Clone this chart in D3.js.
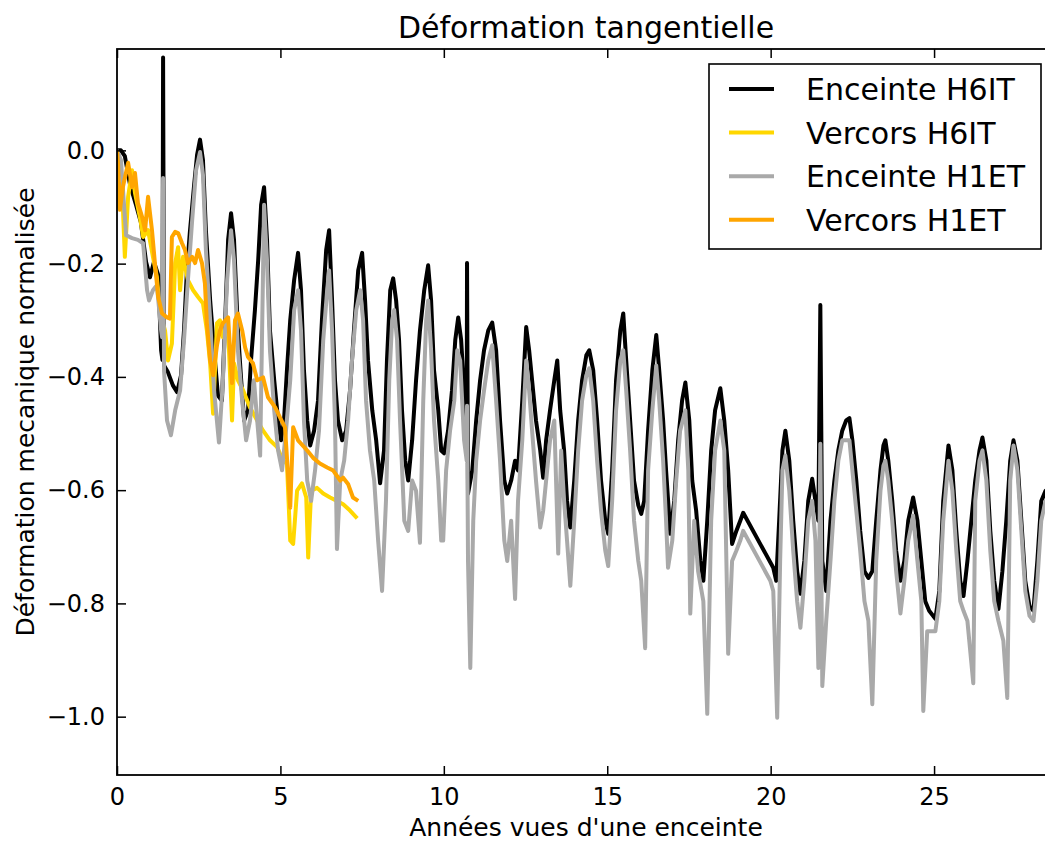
<!DOCTYPE html>
<html>
<head>
<meta charset="utf-8">
<script src="https://cdn.jsdelivr.net/npm/d3@7"></script>
<style>
  body { margin: 0; background: #fff; }
  text { font-family: "DejaVu Sans", sans-serif; fill: #000; }
</style>
</head>
<body>
<div class="chart"></div>
<script>
// series: [years, normalised strain]
const enceinteH6IT = [
  [0.00,0.000],[0.12,0.000],[0.24,-0.010],[0.40,-0.061],[0.58,-0.096],[0.73,-0.127],[0.89,-0.197],[1.01,-0.224],
  [1.13,-0.197],[1.26,-0.220],[1.35,-0.353],[1.39,-0.370],[1.41,0.164],[1.44,-0.380],[1.56,-0.392],[1.71,-0.415],
  [1.84,-0.427],[1.96,-0.397],[2.05,-0.318],[2.14,-0.212],[2.23,-0.144],[2.36,-0.061],[2.45,-0.008],[2.54,0.019],
  [2.63,-0.017],[2.72,-0.141],[2.85,-0.265],[2.97,-0.353],[3.09,-0.433],[3.21,-0.442],[3.31,-0.300],[3.40,-0.158],
  [3.49,-0.111],[3.58,-0.158],[3.70,-0.318],[3.80,-0.406],[3.89,-0.477],[4.01,-0.459],[4.10,-0.371],[4.22,-0.282],
  [4.32,-0.194],[4.41,-0.096],[4.50,-0.065],[4.59,-0.158],[4.68,-0.318],[4.81,-0.406],[4.93,-0.477],[5.02,-0.512],
  [5.11,-0.477],[5.20,-0.388],[5.30,-0.300],[5.42,-0.229],[5.54,-0.181],[5.63,-0.247],[5.72,-0.388],[5.82,-0.477],
  [5.91,-0.521],[6.03,-0.495],[6.15,-0.442],[6.27,-0.300],[6.40,-0.176],[6.49,-0.141],[6.58,-0.265],[6.67,-0.406],
  [6.76,-0.477],[6.89,-0.512],[7.01,-0.495],[7.13,-0.424],[7.25,-0.318],[7.38,-0.212],[7.50,-0.181],[7.59,-0.265],
  [7.68,-0.371],[7.81,-0.459],[7.93,-0.512],[8.05,-0.588],[8.17,-0.530],[8.26,-0.371],[8.36,-0.247],[8.45,-0.226],
  [8.54,-0.265],[8.63,-0.335],[8.72,-0.459],[8.82,-0.548],[8.91,-0.583],[9.03,-0.512],[9.15,-0.406],[9.27,-0.318],
  [9.40,-0.247],[9.52,-0.203],[9.61,-0.265],[9.70,-0.388],[9.83,-0.459],[9.92,-0.530],[10.01,-0.535],[10.13,-0.495],
  [10.25,-0.424],[10.35,-0.335],[10.44,-0.295],[10.53,-0.335],[10.62,-0.424],[10.70,-0.477],[10.71,-0.199],[10.74,-0.606],
  [10.87,-0.565],[10.99,-0.477],[11.11,-0.406],[11.23,-0.353],[11.36,-0.318],[11.48,-0.304],[11.60,-0.353],[11.72,-0.477],
  [11.85,-0.583],[11.94,-0.606],[12.06,-0.583],[12.18,-0.548],[12.27,-0.565],[12.40,-0.442],[12.52,-0.312],[12.61,-0.353],
  [12.70,-0.406],[12.82,-0.477],[12.95,-0.530],[13.04,-0.578],[13.13,-0.512],[13.25,-0.459],[13.38,-0.406],[13.47,-0.371],
  [13.56,-0.459],[13.68,-0.530],[13.77,-0.619],[13.87,-0.666],[13.99,-0.583],[14.11,-0.477],[14.23,-0.406],[14.36,-0.362],
  [14.45,-0.353],[14.57,-0.388],[14.69,-0.477],[14.81,-0.583],[14.94,-0.654],[15.03,-0.677],[15.15,-0.565],[15.27,-0.406],
  [15.40,-0.318],[15.49,-0.288],[15.58,-0.371],[15.70,-0.477],[15.82,-0.583],[15.95,-0.627],[16.04,-0.642],[16.13,-0.619],
  [16.25,-0.495],[16.38,-0.388],[16.50,-0.326],[16.59,-0.388],[16.71,-0.477],[16.80,-0.565],[16.93,-0.677],[17.05,-0.619],
  [17.17,-0.512],[17.29,-0.442],[17.39,-0.410],[17.51,-0.477],[17.60,-0.583],[17.72,-0.636],[17.85,-0.725],[17.94,-0.760],
  [18.06,-0.654],[18.18,-0.530],[18.30,-0.459],[18.46,-0.420],[18.58,-0.477],[18.70,-0.565],[18.82,-0.695],[18.95,-0.672],
  [19.07,-0.654],[19.16,-0.640],[20.08,-0.737],[20.17,-0.760],[20.26,-0.654],[20.36,-0.530],[20.45,-0.495],[20.57,-0.548],
  [20.69,-0.654],[20.81,-0.743],[20.91,-0.783],[21.03,-0.725],[21.15,-0.619],[21.27,-0.580],[21.37,-0.619],[21.46,-0.654],
  [21.52,-0.273],[21.58,-0.725],[21.70,-0.778],[21.83,-0.654],[21.95,-0.583],[22.07,-0.530],[22.19,-0.495],[22.31,-0.477],
  [22.41,-0.473],[22.50,-0.512],[22.62,-0.583],[22.74,-0.672],[22.87,-0.743],[22.99,-0.755],[23.11,-0.743],[23.23,-0.654],
  [23.36,-0.565],[23.45,-0.521],[23.51,-0.512],[23.60,-0.548],[23.72,-0.619],[23.84,-0.707],[23.97,-0.760],[24.09,-0.725],
  [24.21,-0.654],[24.36,-0.613],[24.49,-0.654],[24.61,-0.725],[24.73,-0.796],[24.85,-0.813],[25.04,-0.827],[25.16,-0.778],
  [25.28,-0.619],[25.44,-0.521],[25.56,-0.565],[25.68,-0.672],[25.80,-0.760],[25.90,-0.787],[26.02,-0.725],[26.14,-0.654],
  [26.26,-0.583],[26.39,-0.530],[26.48,-0.507],[26.60,-0.548],[26.72,-0.672],[26.84,-0.760],[26.97,-0.810],[27.09,-0.743],
  [27.21,-0.654],[27.33,-0.548],[27.43,-0.512],[27.55,-0.548],[27.67,-0.654],[27.79,-0.760],[27.92,-0.805],[28.04,-0.813],
  [28.16,-0.725],[28.28,-0.619],[28.41,-0.601],[28.56,-0.650]
];

const vercorsH6IT = [
  [0.00,-0.022],[0.06,-0.100],[0.15,-0.058],[0.24,-0.188],[0.34,-0.082],[0.46,-0.035],[0.55,-0.075],[0.70,-0.118],
  [0.80,-0.153],[0.95,-0.141],[1.10,-0.188],[1.22,-0.224],[1.32,-0.288],[1.47,-0.318],[1.56,-0.371],[1.68,-0.341],
  [1.78,-0.199],[1.87,-0.171],[1.93,-0.247],[2.02,-0.188],[2.17,-0.229],[2.33,-0.247],[2.48,-0.259],[2.63,-0.270],
  [2.75,-0.318],[2.85,-0.376],[2.94,-0.465],[3.06,-0.305],[3.15,-0.300],[3.24,-0.330],[3.40,-0.318],[3.52,-0.477],
  [3.58,-0.376],[3.70,-0.406],[3.86,-0.424],[4.07,-0.454],[4.29,-0.477],[4.47,-0.495],[4.68,-0.512],[4.90,-0.524],
  [5.08,-0.548],[5.20,-0.553],[5.30,-0.689],[5.39,-0.695],[5.51,-0.601],[5.66,-0.588],[5.79,-0.613],[5.85,-0.719],
  [5.94,-0.601],[6.12,-0.596],[6.31,-0.606],[6.52,-0.613],[6.73,-0.619],[6.92,-0.625],[7.13,-0.636],[7.35,-0.650]
];

const enceinteH1ET = [
  [0.00,0.000],[0.12,-0.017],[0.28,-0.150],[0.46,-0.155],[0.64,-0.158],[0.80,-0.164],[0.92,-0.247],[0.98,-0.265],
  [1.10,-0.247],[1.22,-0.238],[1.35,-0.318],[1.38,-0.330],[1.41,-0.049],[1.44,-0.390],[1.53,-0.477],[1.65,-0.503],
  [1.78,-0.459],[1.93,-0.424],[2.05,-0.335],[2.17,-0.229],[2.30,-0.123],[2.42,-0.035],[2.54,-0.003],[2.63,-0.043],
  [2.72,-0.176],[2.85,-0.300],[2.97,-0.424],[3.12,-0.516],[3.24,-0.406],[3.37,-0.229],[3.49,-0.141],[3.58,-0.194],
  [3.70,-0.353],[3.83,-0.442],[3.95,-0.512],[4.07,-0.477],[4.19,-0.406],[4.29,-0.477],[4.38,-0.539],[4.44,-0.318],
  [4.50,-0.096],[4.59,-0.194],[4.68,-0.353],[4.81,-0.459],[4.93,-0.530],[5.05,-0.565],[5.17,-0.495],[5.30,-0.406],
  [5.42,-0.282],[5.54,-0.247],[5.63,-0.318],[5.72,-0.477],[5.82,-0.583],[5.94,-0.619],[6.06,-0.565],[6.18,-0.495],
  [6.31,-0.335],[6.43,-0.247],[6.49,-0.212],[6.58,-0.318],[6.67,-0.477],[6.73,-0.704],[6.83,-0.583],[6.95,-0.548],
  [7.07,-0.477],[7.19,-0.371],[7.32,-0.282],[7.44,-0.247],[7.53,-0.300],[7.62,-0.442],[7.74,-0.530],[7.87,-0.583],
  [7.99,-0.689],[8.11,-0.778],[8.23,-0.619],[8.33,-0.406],[8.42,-0.300],[8.48,-0.282],[8.57,-0.335],[8.66,-0.477],
  [8.79,-0.654],[8.91,-0.672],[9.03,-0.583],[9.15,-0.601],[9.27,-0.693],[9.37,-0.442],[9.46,-0.300],[9.52,-0.265],
  [9.61,-0.353],[9.70,-0.477],[9.83,-0.583],[9.92,-0.689],[9.98,-0.689],[10.07,-0.565],[10.19,-0.495],[10.32,-0.442],
  [10.41,-0.353],[10.50,-0.371],[10.62,-0.512],[10.70,-0.548],[10.71,-0.451],[10.74,-0.725],[10.81,-0.914],[10.90,-0.654],
  [10.99,-0.548],[11.11,-0.477],[11.23,-0.424],[11.36,-0.371],[11.48,-0.344],[11.60,-0.442],[11.72,-0.548],[11.85,-0.689],
  [11.94,-0.725],[12.06,-0.654],[12.18,-0.792],[12.27,-0.619],[12.40,-0.512],[12.52,-0.371],[12.61,-0.424],[12.70,-0.495],
  [12.82,-0.583],[12.95,-0.666],[13.04,-0.636],[13.13,-0.583],[13.25,-0.512],[13.38,-0.477],[13.50,-0.712],[13.59,-0.530],
  [13.68,-0.619],[13.77,-0.689],[13.87,-0.769],[13.99,-0.654],[14.11,-0.530],[14.23,-0.442],[14.36,-0.397],[14.45,-0.385],
  [14.57,-0.442],[14.69,-0.548],[14.81,-0.636],[14.94,-0.707],[15.03,-0.734],[15.15,-0.619],[15.27,-0.459],[15.40,-0.371],
  [15.49,-0.353],[15.58,-0.424],[15.70,-0.530],[15.82,-0.654],[15.95,-0.725],[16.04,-0.760],[16.16,-0.879],[16.25,-0.565],
  [16.38,-0.459],[16.50,-0.380],[16.59,-0.442],[16.71,-0.548],[16.80,-0.654],[16.86,-0.737],[16.99,-0.689],[17.11,-0.583],
  [17.23,-0.495],[17.39,-0.459],[17.48,-0.565],[17.54,-0.818],[17.66,-0.654],[17.78,-0.743],[17.94,-0.796],[18.06,-0.995],
  [18.18,-0.654],[18.30,-0.530],[18.46,-0.477],[18.58,-0.530],[18.70,-0.889],[18.82,-0.725],[18.95,-0.707],[19.07,-0.689],
  [19.16,-0.672],[19.99,-0.760],[20.08,-0.778],[20.20,-1.002],[20.29,-0.725],[20.36,-0.565],[20.45,-0.539],[20.57,-0.601],
  [20.69,-0.707],[20.81,-0.796],[20.91,-0.843],[21.03,-0.760],[21.15,-0.654],[21.27,-0.619],[21.37,-0.689],[21.46,-0.914],
  [21.52,-0.518],[21.58,-0.946],[21.70,-0.831],[21.83,-0.725],[21.95,-0.619],[22.07,-0.548],[22.19,-0.512],[22.31,-0.512],
  [22.41,-0.512],[22.50,-0.565],[22.62,-0.636],[22.74,-0.707],[22.87,-0.796],[22.99,-0.831],[23.11,-0.978],[23.23,-0.725],
  [23.36,-0.601],[23.45,-0.557],[23.51,-0.548],[23.60,-0.583],[23.72,-0.654],[23.84,-0.743],[23.97,-0.818],[24.09,-0.760],
  [24.21,-0.689],[24.36,-0.645],[24.49,-0.725],[24.61,-0.796],[24.67,-0.990],[24.79,-0.849],[25.04,-0.849],[25.16,-0.796],
  [25.28,-0.654],[25.44,-0.548],[25.56,-0.601],[25.68,-0.707],[25.80,-0.796],[25.90,-0.813],[26.02,-0.831],[26.20,-0.941],
  [26.26,-0.619],[26.39,-0.548],[26.48,-0.530],[26.60,-0.583],[26.72,-0.707],[26.84,-0.796],[26.97,-0.831],[27.12,-0.866],
  [27.24,-0.967],[27.33,-0.583],[27.43,-0.521],[27.55,-0.565],[27.67,-0.672],[27.79,-0.778],[27.92,-0.822],[28.04,-0.831],
  [28.16,-0.760],[28.28,-0.654],[28.41,-0.619],[28.56,-0.660]
];

const vercorsH1ET = [
  [0.00,0.000],[0.03,-0.022],[0.09,-0.105],[0.18,-0.065],[0.34,-0.022],[0.46,-0.065],[0.55,-0.040],[0.64,-0.093],
  [0.77,-0.118],[0.86,-0.141],[0.95,-0.082],[1.07,-0.141],[1.16,-0.199],[1.26,-0.259],[1.38,-0.288],[1.53,-0.295],
  [1.62,-0.297],[1.68,-0.153],[1.78,-0.144],[1.87,-0.146],[1.99,-0.164],[2.08,-0.176],[2.17,-0.199],[2.30,-0.188],
  [2.39,-0.199],[2.48,-0.176],[2.60,-0.199],[2.69,-0.235],[2.75,-0.305],[2.85,-0.371],[2.94,-0.397],[3.06,-0.344],
  [3.15,-0.318],[3.24,-0.305],[3.40,-0.295],[3.52,-0.411],[3.61,-0.300],[3.70,-0.288],[3.83,-0.318],[3.92,-0.348],
  [4.01,-0.365],[4.16,-0.376],[4.29,-0.406],[4.47,-0.401],[4.62,-0.436],[4.84,-0.454],[4.99,-0.472],[5.14,-0.489],
  [5.30,-0.631],[5.39,-0.489],[5.54,-0.512],[5.82,-0.530],[6.00,-0.543],[6.21,-0.553],[6.43,-0.560],[6.61,-0.565],
  [6.83,-0.583],[6.92,-0.578],[7.07,-0.589],[7.22,-0.613],[7.38,-0.619]
];

const series = [
  { name: "Enceinte H6IT", color: "#000000", values: enceinteH6IT },
  { name: "Vercors H6IT", color: "#ffd700", values: vercorsH6IT },
  { name: "Enceinte H1ET", color: "#a9a9a9", values: enceinteH1ET },
  { name: "Vercors H1ET", color: "#ffa500", values: vercorsH1ET }
];

const xTicks = [0, 5, 10, 15, 20, 25];
const yTicks = [0.0, -0.2, -0.4, -0.6, -0.8, -1.0];

function chart() {
    const W = 1045, H = 843;
    const margin = { top: 49, right: -10, bottom: 68, left: 117 },
    width = W - margin.left - margin.right,
    height = H - margin.top - margin.bottom;

    const root = d3.select(".chart")
        .append("svg")
        .attr("width", W)
        .attr("height", H);

    const svg = root.append("g")
        .attr("transform", `translate(${margin.left},${margin.top})`);

    const x = d3.scaleLinear()
        .domain([0, 28.7])
        .range([0, width]);

    const y = d3.scaleLinear()
        .domain([-1.103, 0.179])
        .range([height, 0]);

    svg.append("clipPath")
        .attr("id", "plot-clip")
        .append("rect")
        .attr("width", width)
        .attr("height", height);

    const line = d3.line()
        .x(d => x(d[0]))
        .y(d => y(d[1]));

    svg.append("g")
        .attr("clip-path", "url(#plot-clip)")
        .selectAll("path")
        .data(series)
        .enter()
        .append("path")
        .attr("fill", "none")
        .attr("stroke", d => d.color)
        .attr("stroke-width", 4)
        .attr("stroke-linejoin", "round")
        .attr("d", d => line(d.values));

    const fmt = d3.format(".1f");

    // axes, ticks pointing inward like the classic matplotlib style
    svg.append("g")
        .attr("transform", `translate(0,${height})`)
        .call(d3.axisBottom(x).tickValues(xTicks).tickSize(-9).tickPadding(13).tickFormat(d3.format("d")));
    svg.append("g")
        .call(d3.axisTop(x).tickValues(xTicks).tickSize(-9).tickFormat(""));
    svg.append("g")
        .call(d3.axisLeft(y).tickValues(yTicks).tickSize(-9).tickPadding(12).tickFormat(d => fmt(d)));

    svg.selectAll(".domain").remove();
    svg.selectAll(".tick line").attr("stroke", "#000").attr("stroke-width", 1.5);
    svg.selectAll(".tick text")
        .style("font-family", "DejaVu Sans")
        .style("font-size", "24px")
        .attr("fill", "#000");

    svg.append("rect")
        .attr("width", width)
        .attr("height", height)
        .attr("fill", "none")
        .attr("stroke", "#000")
        .attr("stroke-width", 1.8);

    // titles
    root.append("text")
        .text("Déformation tangentielle")
        .attr("x", margin.left + width / 2)
        .attr("y", 38)
        .attr("text-anchor", "middle")
        .attr("font-size", 30);

    root.append("text")
        .text("Années vues d'une enceinte")
        .attr("x", margin.left + width / 2)
        .attr("y", 836)
        .attr("text-anchor", "middle")
        .attr("font-size", 25);

    root.append("text")
        .text("Déformation mecanique normalisée")
        .attr("transform", `translate(34,${margin.top + height / 2}) rotate(-90)`)
        .attr("text-anchor", "middle")
        .attr("font-size", 25);

    // legend
    const legend = root.append("g")
        .attr("transform", "translate(709,64)");

    legend.append("rect")
        .attr("width", 332)
        .attr("height", 185)
        .attr("fill", "#fff")
        .attr("stroke", "#000")
        .attr("stroke-width", 1.6);

    const item = legend.selectAll(".item")
        .data(series)
        .enter()
        .append("g")
        .attr("transform", (d, i) => `translate(0,${25 + i * 43.6})`);

    item.append("line")
        .attr("x1", 20)
        .attr("x2", 65)
        .attr("stroke", d => d.color)
        .attr("stroke-width", 4);

    item.append("text")
        .text(d => d.name)
        .attr("x", 97)
        .attr("y", 11)
        .attr("font-size", 30);
}
chart();
</script>
</body>
</html>
